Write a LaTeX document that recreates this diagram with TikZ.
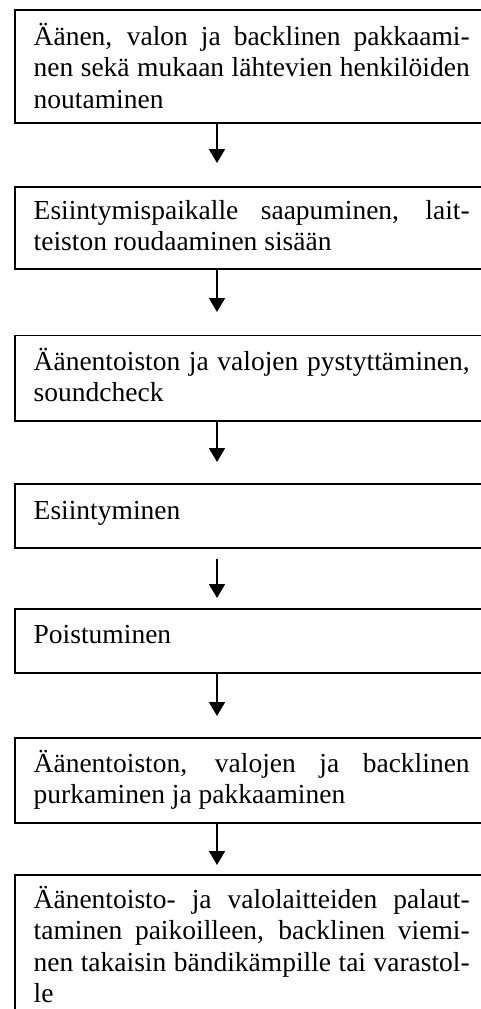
\documentclass[tikz,border=0pt]{standalone}
\usepackage{fontspec}
\setmainfont{Liberation Serif}
\usetikzlibrary{arrows.meta}
\newcommand{\flowpar}[1]{\vtop{\hsize=436pt\parindent=0pt\tolerance=10000\hyphenpenalty=10000\exhyphenpenalty=10000\noindent #1\par}}
\begin{document}
\begin{tikzpicture}[x=1pt,y=-1pt,
  box/.style={draw, line width=1.6pt, inner sep=0pt, anchor=north west, minimum width=472pt},
  txt/.style={inner sep=0pt, anchor=base west, font=\fontsize{27.5}{31.6}\selectfont},
  arr/.style={line width=1.8pt, -{Triangle[width=16pt,length=14pt]}}]
\useasboundingbox (0,0) rectangle (481,1009);
% boxes
\node[box, minimum height=113pt] (b1) at (14,9) {};
\node[box, minimum height=82pt] (b2) at (14,186) {};
\node[box, minimum height=85.5pt] (b3) at (14,334.5) {};
\node[box, minimum height=64pt] (b4) at (14,483) {};
\node[box, minimum height=64pt] (b5) at (14,608) {};
\node[box, minimum height=85pt] (b6) at (14,737) {};
\node[box, minimum height=150pt] (b7) at (14,874) {};
% texts
\node[txt] (t1) at (33.5,45) {\flowpar{Äänen, valon ja backlinen pakkaami-\linebreak nen sekä mukaan lähtevien henkilöiden\linebreak noutaminen}};
\node[txt] (t2) at (33.5,219) {\flowpar{Esiintymispaikalle saapuminen, lait-\linebreak teiston roudaaminen sisään}};
\node[txt] (t3) at (33.5,370) {\flowpar{Äänentoiston ja valojen pystyttäminen,\linebreak soundcheck}};
\node[txt] (t4) at (33.5,519) {\flowpar{Esiintyminen}};
\node[txt] (t5) at (33.5,643) {\flowpar{Poistuminen}};
\node[txt] (t6) at (33.5,772) {\flowpar{Äänentoiston, valojen ja backlinen\linebreak purkaminen ja pakkaaminen}};
\node[txt] (t7) at (33.5,908) {\flowpar{Äänentoisto- ja valolaitteiden palaut-\linebreak taminen paikoilleen, backlinen viemi-\linebreak nen takaisin bändikämpille tai varastol-\linebreak le}};
% arrows
\draw[arr] ([xshift=203pt]b1.south west) -- ([xshift=203pt,yshift=23pt]b2.north west);
\draw[arr] ([xshift=203pt]b2.south west) -- ([xshift=203pt,yshift=22.5pt]b3.north west);
\draw[arr] ([xshift=203pt]b3.south west) -- ([xshift=203pt,yshift=21pt]b4.north west);
\draw[arr] ([xshift=203pt,yshift=-10pt]b4.south west) -- ([xshift=203pt,yshift=10pt]b5.north west);
\draw[arr] ([xshift=203pt]b5.south west) -- ([xshift=203pt,yshift=21pt]b6.north west);
\draw[arr] ([xshift=203pt]b6.south west) -- ([xshift=203pt,yshift=9pt]b7.north west);
\end{tikzpicture}
\end{document}
